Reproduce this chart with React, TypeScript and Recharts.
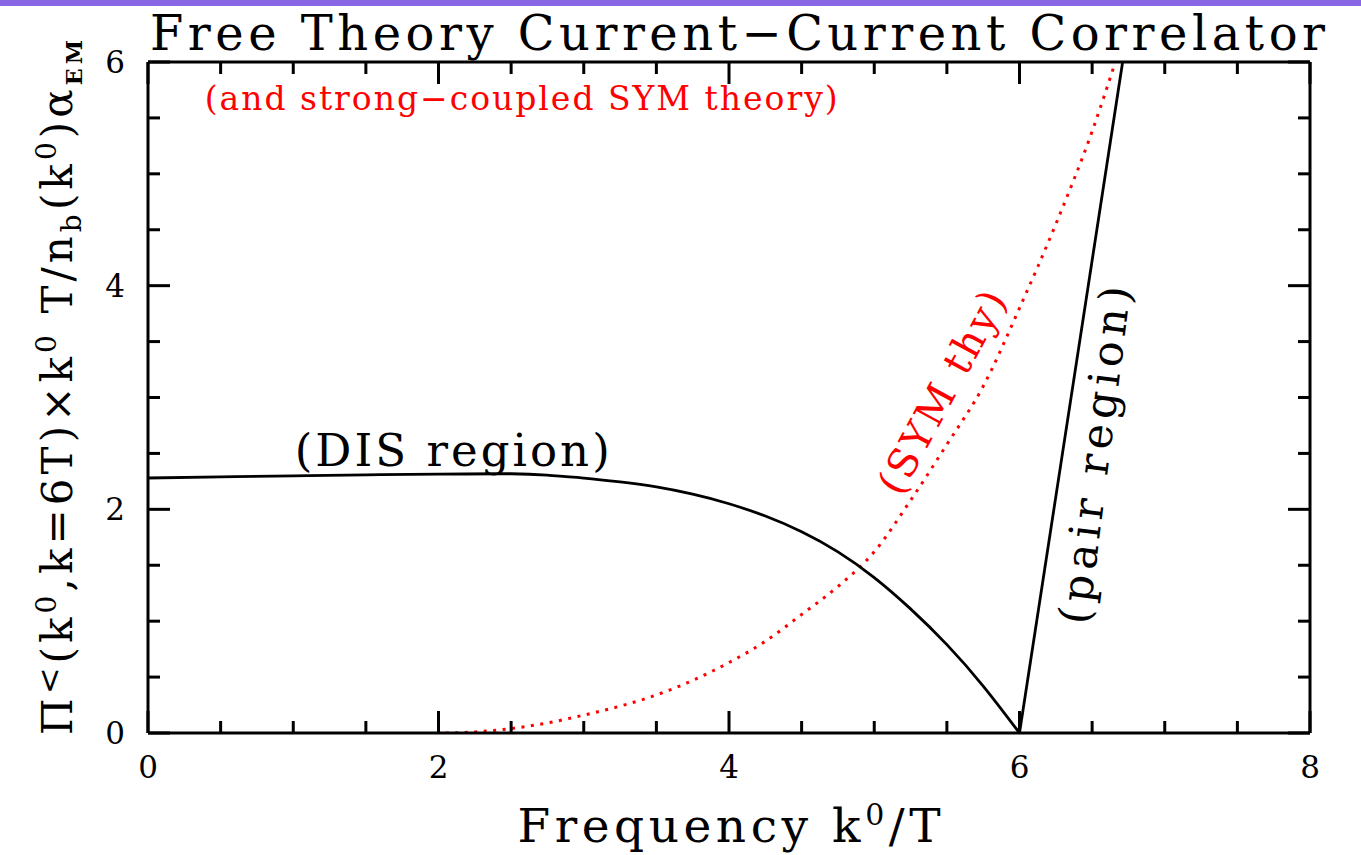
import { LineChart, Line, XAxis, YAxis, ReferenceDot, Label } from "recharts";

// DIS region (free theory), k0/T vs correlator
const disK = [0, 0.5, 1, 1.5, 2, 2.5, 2.75, 3, 3.25, 3.5, 3.75, 4, 4.25, 4.5, 4.75, 5, 5.25, 5.5, 5.75, 6];
const disVal = [2.28, 2.29, 2.3, 2.308, 2.315, 2.318, 2.305, 2.28, 2.245, 2.2, 2.135, 2.05, 1.94, 1.8, 1.62, 1.39, 1.11, 0.79, 0.42, 0];

// pair region
const pairK = [6, 6.71];
const pairVal = [0, 6];

// strong-coupled SYM theory (dotted)
const symK = [2.05, 2.25, 2.5, 2.75, 3, 3.25, 3.5, 3.75, 4, 4.25, 4.5, 4.75, 5, 5.25, 5.5, 5.75, 6, 6.25, 6.5, 6.66];
const symVal = [0, 0.01, 0.04, 0.09, 0.16, 0.24, 0.34, 0.47, 0.63, 0.82, 1.06, 1.31, 1.62, 2.08, 2.58, 3.1, 3.8, 4.55, 5.38, 6.0];

const xTicks = [0, 0.5, 1, 1.5, 2, 2.5, 3, 3.5, 4, 4.5, 5, 5.5, 6, 6.5, 7, 7.5, 8];
const yTicks = [0, 0.5, 1, 1.5, 2, 2.5, 3, 3.5, 4, 4.5, 5, 5.5, 6];

const disData = disK.map((x, i) => ({ x, y: disVal[i] }));
const pairData = pairK.map((x, i) => ({ x, y: pairVal[i] }));
const symData = symK.map((x, i) => ({ x, y: symVal[i] }));

const FONT = "'DejaVu Serif', 'Liberation Serif', serif";
const isMajor = (v: number) => v % 2 === 0;

const BottomTick = (p: any) => {
  const v = p.payload.value;
  const len = isMajor(v) ? 22 : 12;
  return (
    <g>
      <line x1={p.x} y1={p.y} x2={p.x} y2={p.y - len} stroke="#000" strokeWidth={3} />
      {isMajor(v) && (
        <text x={p.x} y={p.y + 45} textAnchor="middle" fontSize={31} fontFamily={FONT} fill="#000">
          {v}
        </text>
      )}
    </g>
  );
};

const TopTick = (p: any) => {
  const len = isMajor(p.payload.value) ? 22 : 12;
  return <line x1={p.x} y1={p.y} x2={p.x} y2={p.y + len} stroke="#000" strokeWidth={3} />;
};

const LeftTick = (p: any) => {
  const v = p.payload.value;
  const len = isMajor(v) ? 22 : 12;
  return (
    <g>
      <line x1={p.x} y1={p.y} x2={p.x + len} y2={p.y} stroke="#000" strokeWidth={3} />
      {isMajor(v) && (
        <text x={p.x - 23} y={p.y + 11} textAnchor="end" fontSize={31} fontFamily={FONT} fill="#000">
          {v}
        </text>
      )}
    </g>
  );
};

const RightTick = (p: any) => {
  const len = isMajor(p.payload.value) ? 22 : 12;
  return <line x1={p.x} y1={p.y} x2={p.x - len} y2={p.y} stroke="#000" strokeWidth={3} />;
};

const TitleLabel = ({ viewBox }: any) => (
  <text
    x={viewBox.x + 2}
    y={viewBox.y + viewBox.height - 12}
    fontSize={48}
    fontFamily={FONT}
    fill="#000"
    textLength={1175}
    lengthAdjust="spacing"
  >
    Free Theory Current−Current Correlator
  </text>
);

const XLabel = ({ viewBox }: any) => (
  <text
    x={viewBox.x + viewBox.width / 2}
    y={viewBox.y + 109}
    textAnchor="middle"
    fontSize={47}
    fontFamily={FONT}
    fill="#000"
    textLength={423}
    lengthAdjust="spacing"
  >
    Frequency k<tspan dy={-17} fontSize={30}>0</tspan>
    <tspan dy={17}>/T</tspan>
  </text>
);

const YLabel = ({ viewBox }: any) => {
  const bx = viewBox.x - 16;
  const by = viewBox.y + viewBox.height + 2;
  return (
    <text
      transform={`translate(${bx},${by}) rotate(-90)`}
      x={0}
      y={0}
      fontSize={42}
      fontFamily={FONT}
      fill="#000"
      textLength={695}
      lengthAdjust="spacing"
    >
      Π<tspan dy={-12} fontSize={32}>&lt;</tspan>
      <tspan dy={12}>(k</tspan>
      <tspan dy={-16} fontSize={28}>0</tspan>
      <tspan dy={16}>,k=6T)×k</tspan>
      <tspan dy={-16} fontSize={28}>0</tspan>
      <tspan dy={16}> T/n</tspan>
      <tspan dy={9} fontSize={28}>b</tspan>
      <tspan dy={-9}>(k</tspan>
      <tspan dy={-16} fontSize={28}>0</tspan>
      <tspan dy={16}>)α</tspan>
      <tspan dy={10} fontSize={22} fontWeight="bold">EM</tspan>
    </text>
  );
};

const textShape =
  (label: string, opts: { size: number; color: string; len: number; rot?: number; anchor?: string }) =>
  (p: any) => (
    <text
      transform={`translate(${p.cx},${p.cy}) rotate(${opts.rot ?? 0})`}
      x={0}
      y={0}
      textAnchor={opts.anchor ?? "start"}
      fontSize={opts.size}
      fontFamily={FONT}
      fill={opts.color}
      textLength={opts.len}
      lengthAdjust="spacing"
    >
      {label}
    </text>
  );

export default function App() {
  return (
    <div style={{ position: "absolute", left: 0, top: 0, width: 1361, height: 855, background: "#fff" }}>
      <div style={{ position: "absolute", left: 0, top: 0, width: 1361, height: 6, background: "#8767e4" }} />
      <LineChart width={1361} height={855} margin={{ top: 61, right: 50, bottom: 72, left: 88 }}>
        <XAxis
          type="number"
          dataKey="x"
          domain={[0, 8]}
          ticks={xTicks}
          interval={0}
          height={50}
          tickSize={0}
          tickMargin={0}
          tick={<BottomTick />}
          axisLine={{ stroke: "#000", strokeWidth: 3 }}
          allowDataOverflow
        >
          <Label content={<XLabel />} />
        </XAxis>
        <XAxis
          xAxisId="top"
          orientation="top"
          type="number"
          dataKey="x"
          domain={[0, 8]}
          ticks={xTicks}
          interval={0}
          height={1}
          tickSize={0}
          tickMargin={0}
          tick={<TopTick />}
          axisLine={{ stroke: "#000", strokeWidth: 3 }}
          allowDataOverflow
        >
          <Label content={<TitleLabel />} />
        </XAxis>
        <YAxis
          type="number"
          domain={[0, 6]}
          ticks={yTicks}
          interval={0}
          width={60}
          tickSize={0}
          tickMargin={0}
          tick={<LeftTick />}
          axisLine={{ stroke: "#000", strokeWidth: 3 }}
          allowDataOverflow
        >
          <Label content={<YLabel />} />
        </YAxis>
        <YAxis
          yAxisId="right"
          orientation="right"
          type="number"
          domain={[0, 6]}
          ticks={yTicks}
          interval={0}
          width={1}
          tickSize={0}
          tickMargin={0}
          tick={<RightTick />}
          axisLine={{ stroke: "#000", strokeWidth: 3 }}
          allowDataOverflow
        />
        {/* invisible series so the top and right frame axes are drawn */}
        <Line
          xAxisId="top"
          yAxisId="right"
          data={pairData}
          dataKey="y"
          stroke="none"
          dot={false}
          activeDot={false}
          legendType="none"
          isAnimationActive={false}
        />
        <Line
          data={symData}
          dataKey="y"
          type="monotone"
          stroke="#ff0000"
          strokeWidth={3}
          strokeDasharray="3 6.5"
          dot={false}
          isAnimationActive={false}
        />
        <Line
          data={disData}
          dataKey="y"
          type="natural"
          stroke="#000"
          strokeWidth={2.8}
          dot={false}
          isAnimationActive={false}
        />
        <Line
          data={pairData}
          dataKey="y"
          type="linear"
          stroke="#000"
          strokeWidth={2.8}
          dot={false}
          isAnimationActive={false}
        />
        <ReferenceDot
          x={0.39}
          y={5.57}
          r={0}
          shape={textShape("(and strong−coupled SYM theory)", { size: 33, color: "#ff0000", len: 633 })}
        />
        <ReferenceDot
          x={1.01}
          y={2.39}
          r={0}
          shape={textShape("(DIS region)", { size: 45, color: "#000", len: 315 })}
        />
        <ReferenceDot
          x={5.55}
          y={2.99}
          r={0}
          shape={textShape("(SYM thy)", { size: 40, color: "#ff0000", len: 225, rot: -61.5, anchor: "middle" })}
        />
        <ReferenceDot
          x={6.62}
          y={2.47}
          r={0}
          shape={textShape("(pair region)", { size: 43, color: "#000", len: 340, rot: -82.8, anchor: "middle" })}
        />
      </LineChart>
    </div>
  );
}
